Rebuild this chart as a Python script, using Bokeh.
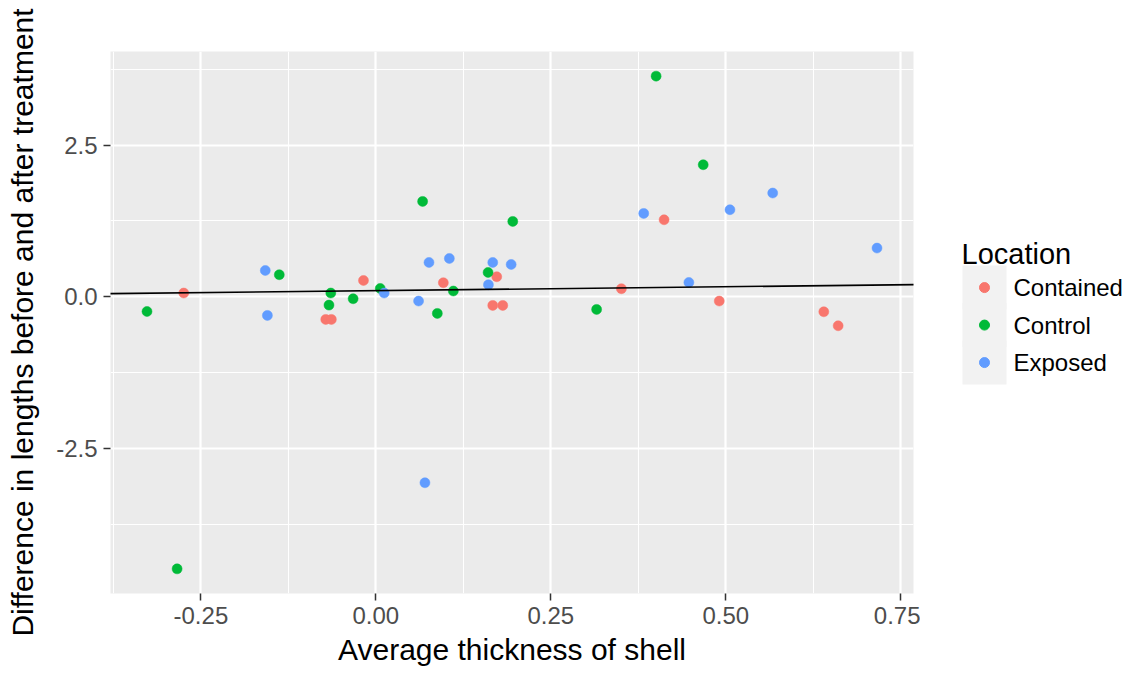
from bokeh.plotting import figure
from bokeh.models import Range1d, FixedTicker, NumeralTickFormatter, Slope
from bokeh.layouts import row
from bokeh.core.properties import value
from bokeh.embed import file_html
from bokeh.resources import INLINE

# ---- data ----
locations = ["Contained", "Control", "Exposed"]
colors = ["#F8766D", "#00BA38", "#619CFF"]

contained_x = [-0.2745, -0.0716, -0.0636, -0.0177, 0.0964, 0.1727, 0.167, 0.1813, 0.4118, 0.3508, 0.4906, 0.64, 0.6605]
contained_y = [0.061, -0.374, -0.374, 0.269, 0.231, 0.33, -0.143, -0.143, 1.27, 0.132, -0.071, -0.248, -0.479]

control_x = [-0.327, -0.284, -0.138, -0.0644, -0.067, -0.0325, 0.0062, 0.0668, 0.0878, 0.1107, 0.1603, 0.1956, 0.3154, 0.4004, 0.4677]
control_y = [-0.243, -4.49, 0.363, 0.061, -0.138, -0.033, 0.137, 1.573, -0.275, 0.094, 0.401, 1.243, -0.209, 3.64, 2.178]

exposed_x = [-0.158, -0.155, 0.0119, 0.061, 0.0701, 0.0759, 0.105, 0.1608, 0.167, 0.1933, 0.3827, 0.4472, 0.5059, 0.567, 0.716]
exposed_y = [0.434, -0.308, 0.061, -0.071, -3.069, 0.566, 0.632, 0.198, 0.566, 0.533, 1.375, 0.236, 1.436, 1.711, 0.803]

fit_intercept = 0.10
fit_slope = 0.13

x_ticks = [-0.25, 0.0, 0.25, 0.5, 0.75]
x_minor = [-0.375, -0.125, 0.125, 0.375, 0.625]
y_ticks = [-2.5, 0.0, 2.5]
y_minor = [-3.75, -1.25, 1.25, 3.75]

x_title = "Average thickness of shell"
y_title = "Difference in lengths before and after treatment"
legend_title = "Location"

series_x = [contained_x, control_x, exposed_x]
series_y = [contained_y, control_y, exposed_y]

# ggplot-like 5% expansion
all_x = contained_x + control_x + exposed_x
all_y = contained_y + control_y + exposed_y
xs = max(all_x) - min(all_x)
ys = max(all_y) - min(all_y)
xr = Range1d(min(all_x) - 0.05 * xs, max(all_x) + 0.05 * xs)
yr = Range1d(min(all_y) - 0.05 * ys, max(all_y) + 0.05 * ys)

FONT = "Liberation Sans"

p = figure(width=920, height=675, x_range=xr, y_range=yr,
           output_backend="svg", toolbar_location=None,
           min_border_left=110, min_border_right=7,
           min_border_top=51, min_border_bottom=82)
p.background_fill_color = "#EBEBEB"
p.border_fill_color = "white"
p.outline_line_color = None

p.xaxis.ticker = FixedTicker(ticks=x_ticks, minor_ticks=x_minor)
p.yaxis.ticker = FixedTicker(ticks=y_ticks, minor_ticks=y_minor)
p.xaxis.formatter = NumeralTickFormatter(format="0.00")
p.yaxis.formatter = NumeralTickFormatter(format="0.0")

for g in (p.xgrid, p.ygrid):
    g.grid_line_color = "white"
    g.grid_line_width = 2.2
    g.minor_grid_line_color = "white"
    g.minor_grid_line_width = 1.1

for ax in (p.xaxis, p.yaxis):
    ax.axis_line_color = None
    ax.major_tick_line_color = "#333333"
    ax.major_tick_line_width = 1.5
    ax.major_tick_out = 7
    ax.major_tick_in = 0
    ax.minor_tick_line_color = None
    ax.major_label_text_font = FONT
    ax.major_label_text_font_size = "24px"
    ax.major_label_text_color = "#4D4D4D"
    ax.major_label_standoff = 6
    ax.axis_label_text_font = FONT
    ax.axis_label_text_font_size = "30px"
    ax.axis_label_text_font_style = "normal"
    ax.axis_label_text_color = "black"

p.xaxis.axis_label = x_title
p.yaxis.axis_label = y_title
p.xaxis.axis_label_standoff = 6
p.yaxis.axis_label_standoff = 14

for sx, sy, c in zip(series_x, series_y, colors):
    p.scatter(sx, sy, size=10, fill_color=c, line_color=c, line_width=0.5)

p.add_layout(Slope(gradient=fit_slope, y_intercept=fit_intercept,
                   line_color="black", line_width=1.6))

# ---- legend panel (page-pixel coordinates) ----
lg = figure(width=215, height=675, x_range=Range1d(920, 1135), y_range=Range1d(675, 0),
            output_backend="svg", toolbar_location=None, min_border=0)
lg.axis.visible = False
lg.grid.visible = False
lg.outline_line_color = None
lg.background_fill_color = "white"
lg.border_fill_color = "white"

key_x = 984
key_y0 = 294
key_step = 46.7
key_ys = [key_y0 + i * key_step for i in range(len(locations))]

lg.text(x=[961], y=[252], text=[legend_title], text_font=value(FONT),
        text_font_size="29px", text_baseline="middle", text_align="left", text_color="black")
lg.rect(x=[key_x] * len(locations), y=key_ys, width=44, height=44,
        width_units="screen", height_units="screen",
        fill_color="#F2F2F2", line_color=None)
lg.scatter(x=[key_x] * len(locations), y=key_ys, size=10, fill_color=colors, line_color=colors)
lg.text(x=[1013] * len(locations), y=key_ys, text=locations, text_font=value(FONT),
        text_font_size="24px", text_baseline="middle", text_align="left", text_color="black")

layout = row(p, lg)
open("out.html", "w").write(file_html(layout, INLINE))
